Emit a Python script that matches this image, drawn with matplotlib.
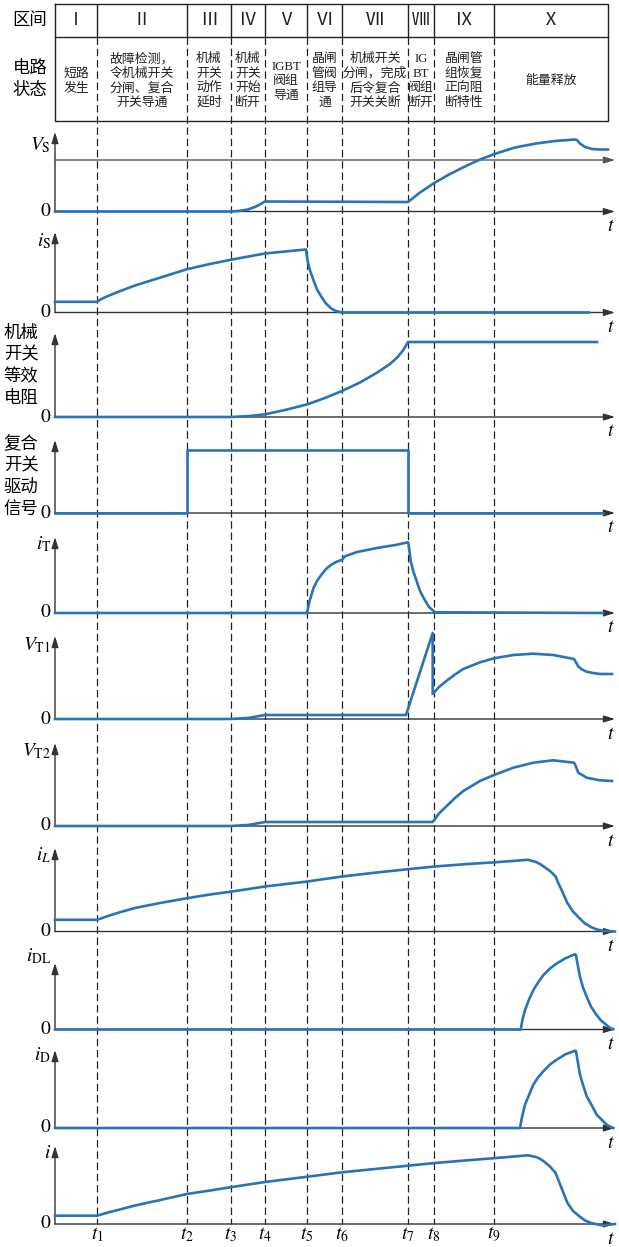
import matplotlib
matplotlib.use('Agg')
import matplotlib.pyplot as plt

plt.rcParams['mathtext.fontset'] = 'stix'
plt.rcParams['font.family'] = ['Noto Sans CJK SC', 'DejaVu Sans']

W, H = 619, 1247

# switching instants t1..t9 (horizontal axis units)
t_marks = [97, 187, 231, 265, 307, 342, 408, 434, 494]
t_start, t_end, table_end = 55, 615, 608

zones = ['Ⅰ', 'Ⅱ', 'Ⅲ', 'Ⅳ', 'Ⅴ', 'Ⅵ', 'Ⅶ', 'Ⅷ', 'Ⅸ', 'Ⅹ']
states = [
    ['短路', '发生'],
    ['故障检测，', '令机械开关', '分闸、复合', '开关导通'],
    ['机械', '开关', '动作', '延时'],
    ['机械', '开关', '开始', '断开'],
    ['IGBT', '阀组', '导通'],
    ['晶闸', '管阀', '组导', '通'],
    ['机械开关', '分闸，完成', '后令复合', '开关关断'],
    ['IG', 'BT', '阀组', '断开'],
    ['晶闸管', '组恢复', '正向阻', '断特性'],
    ['能量释放'],
]

# waveforms (time, value)
vs_t = [55, 231, 240, 248, 256, 265, 408, 420, 435, 450, 465, 480, 496, 515, 536, 555, 575, 577, 580, 585, 592, 600, 608]
vs_v = [0, 0, 0.7, 2, 5, 10, 9.5, 19, 29, 37.5, 45, 52, 58, 64, 68, 70.5, 72, 71.5, 68, 64.5, 62.5, 62, 62]
vs_ref = 51.5

is_t = [55, 97, 102, 108, 119, 135, 159, 187, 210, 232, 265, 290, 306, 307.5, 310, 313.5, 317, 321.4, 326, 331.3, 336, 342, 589]
is_v = [10.7, 10.7, 13.8, 16.5, 21, 27, 34.5, 43.3, 48.5, 53, 59, 61.5, 63, 52, 42, 32.3, 23, 15.7, 9, 4, 1.5, 0, 0]

r_t = [55, 231, 250, 265, 285, 307.5, 325, 342, 360, 377, 390, 397, 403, 408, 597]
r_v = [0, 0, 1, 2.7, 7, 12.7, 19, 26, 34.5, 44.3, 53, 59.3, 66.5, 75, 75]

drv_t = [55, 187, 187, 408, 408, 603]
drv_v = [0, 0, 63.3, 63.3, 0, 0]

it_t = [55, 307, 309.5, 313.5, 317, 321.4, 326, 331.3, 336, 342, 345, 357, 377, 397, 408,
        408.7, 410.7, 413.5, 416.7, 420, 424.6, 429, 435, 603]
it_v = [0, 0, 11.7, 25, 32, 38.3, 44, 48.3, 51, 53.3, 56.7, 61, 65, 68.3, 70.7,
        68.3, 51.7, 41, 31.7, 22, 13.3, 6, 0.7, 0]

vt1_t = [55, 231, 248, 265, 406, 432.7, 432.7, 439, 446.7, 455, 463.3, 480, 494, 513.3, 533.3, 553.3,
         574, 575, 578.3, 582, 586.7, 593, 600, 612]
vt1_v = [0, 0, 1, 4, 4, 86, 25, 32, 38.3, 44.5, 50, 56.7, 60.7, 64, 65.3, 64,
         60, 58.3, 52.5, 49.5, 47.3, 46, 45, 45]

vt2_t = [55, 231, 248, 265, 432.7, 439, 446.7, 455, 463.3, 480, 494, 513.3, 533.3, 553.3, 574, 575, 578.3, 586.7, 600, 612]
vt2_v = [0, 0, 1, 4, 4, 12.5, 20, 28, 35, 45, 51, 58.3, 63.3, 65.7, 63.3, 61.7, 53.3, 48.3, 45.7, 45]

il_t = [55, 97, 108, 119, 135, 159, 187, 210, 232, 265, 307.5, 342, 375, 408, 435, 465, 496, 528,
        536, 540, 543.7, 550, 555.6, 558, 561.5, 567.5, 573, 579.4, 585, 591.3, 597, 603.2, 615]
il_v = [11.7, 11.7, 15.5, 19, 23.5, 28.3, 33.3, 37, 40, 45, 50, 55, 58.8, 62.3, 65, 67.3, 69.3, 71.7,
        69.5, 67.5, 65, 60.5, 55, 49, 41.7, 28.3, 20, 13.3, 8, 4.3, 2, 0.7, 0]

idl_t = [55, 520.7, 522.5, 525, 529, 533.3, 538, 543.3, 550, 556.7, 565, 575,
         576, 578, 580, 583, 586.7, 591, 596.7, 601, 606.7, 610, 613.3]
idl_v = [0, 0, 10, 19.3, 30, 39.3, 47, 54.3, 61, 66, 71, 75.3,
         74.3, 63, 52.7, 42, 32.7, 23, 14.3, 9, 4.3, 1.5, 0.3]

id_t = [55, 520, 522, 525, 529, 533.3, 538, 543.3, 550, 556.7, 565, 575,
        576, 578, 580, 583, 586.7, 591, 596.7, 601, 606.7, 610, 613.3]
id_v = [0, 0, 11, 23.3, 33, 43.3, 50.5, 56.7, 63.5, 68.3, 73.5, 77.3,
        76.7, 65, 53.3, 43, 31.7, 24, 13.3, 9, 3.3, 1.5, 0]

i_t = [55, 97, 108, 119, 135, 159, 187, 210, 232, 265, 307.5, 342, 375, 408, 435, 465, 496, 528,
       536, 540, 543.7, 550, 555.6, 558, 561.5, 567.5, 573, 579.4, 585, 591.3, 600, 603.2, 615]
i_v = [8.3, 8.3, 11.5, 14.3, 18.5, 23.7, 30, 33.5, 37, 42, 47.3, 51.7, 55, 58.3, 61, 63.5, 66, 68.7,
       67, 65.2, 62.7, 57.5, 51, 45, 36, 21, 13, 7.7, 3.5, 1, -1, -1.3, 0]

blue = '#2a73b7'
axc = '#333333'
arrow = dict(arrowstyle='-|>,head_length=0.55,head_width=0.17', color=axc, lw=1.0,
             shrinkA=0, shrinkB=0, mutation_scale=12)

fig = plt.figure(figsize=(W / 100, H / 100), dpi=100)

# background layer in pixel units: table, dashed time lines, labels
ax0 = fig.add_axes([0, 0, 1, 1])
ax0.set_xlim(0, W)
ax0.set_ylim(H, 0)
ax0.axis('off')

row_top, row_mid, row_bot = 3.5, 36.5, 120.5
edges = [t_start] + t_marks + [table_end]
ax0.plot([t_start, table_end, table_end, t_start, t_start],
         [row_top, row_top, row_bot, row_bot, row_top], color='#222222', lw=1.0)
ax0.plot([t_start, table_end], [row_mid, row_mid], color='#222222', lw=1.0)
ax0.vlines(t_marks, row_top, row_mid, color='#222222', lw=1.0)
ax0.vlines(t_marks, row_mid, 1224, color='#222222', lw=0.9, linestyles=(0, (6, 3)))

for k, z in enumerate(zones):
    xc = (edges[k] + edges[k + 1]) / 2
    ax0.text(xc, 20, z, ha='center', va='center', fontsize=13, color='#222222')
    lines = states[k]
    n = len(lines)
    for j, s in enumerate(lines):
        y = 81 + (j - (n - 1) / 2) * 14.5
        ax0.text(xc, y, s, ha='center', va='center', fontsize=9.3, color='#222222',
                 family=['Liberation Serif', 'Noto Sans CJK SC'])

ax0.text(30, 20, '区间', ha='center', va='center', fontsize=12.5)
ax0.text(30, 68, '电路', ha='center', va='center', fontsize=12.5)
ax0.text(30, 90, '状态', ha='center', va='center', fontsize=12.5)

for k, t in enumerate(t_marks):
    ax0.text(t, 1234, rf'$t_{{{k + 1}}}$', ha='center', va='center', fontsize=14)

# panels: (zero pixel, arrow top pixel, time, values, label, label y)
panels = [
    (211.5, 132, vs_t, vs_v, r'$V_{\mathrm{S}}$', 145),
    (312.5, 232, is_t, is_v, r'$i_{\mathrm{S}}$', 241),
    (417, 333, r_t, r_v, ['机械', '开关', '等效', '电阻'], 333),
    (513, 440, drv_t, drv_v, ['复合', '开关', '驱动', '信号'], 444),
    (613, 537, it_t, it_v, r'$i_{\mathrm{T}}$', 544),
    (719, 636, vt1_t, vt1_v, r'$V_{\mathrm{T1}}$', 645),
    (826, 743, vt2_t, vt2_v, r'$V_{\mathrm{T2}}$', 751),
    (931.5, 848, il_t, il_v, r'$i_L$', 855),
    (1029.5, 963, idl_t, idl_v, r'$i_{\mathrm{DL}}$', 956),
    (1128, 1050, id_t, id_v, r'$i_{\mathrm{D}}$', 1055),
    (1224, 1146, i_t, i_v, r'$i$', 1153),
]

for idx, (zero, top, t, v, label, ly) in enumerate(panels):
    bot_px, top_px = zero + 22, top - 12
    ax = fig.add_axes([0, 1 - bot_px / H, 1, (bot_px - top_px) / H])
    ax.set_xlim(0, W)
    ax.set_ylim(-22, zero - top_px)
    ax.axis('off')
    ax.patch.set_alpha(0)
    ax.annotate('', xy=(t_end, 0), xytext=(t_start, 0), arrowprops=arrow)
    ax.annotate('', xy=(t_start, zero - top), xytext=(t_start, 0), arrowprops=arrow)
    if idx == 0:
        ax.annotate('', xy=(t_end, vs_ref), xytext=(t_start, vs_ref),
                    arrowprops=dict(arrow, color='#555555'))
    ax.plot(t, v, color=blue, lw=1.9, solid_joinstyle='round', zorder=3)
    ax.text(51, 1, r'$\mathrm{0}$', ha='right', va='center', fontsize=14)
    ax.text(611, -14, r'$t$', ha='center', va='center', fontsize=14)

    if isinstance(label, str):
        ax0.text(51, ly, label, ha='right', va='center', fontsize=14)
    else:
        for j, s in enumerate(label):
            ax0.text(21, ly + j * 21.5, s, ha='center', va='center', fontsize=12.5)

fig.savefig('out.png', dpi=100)
